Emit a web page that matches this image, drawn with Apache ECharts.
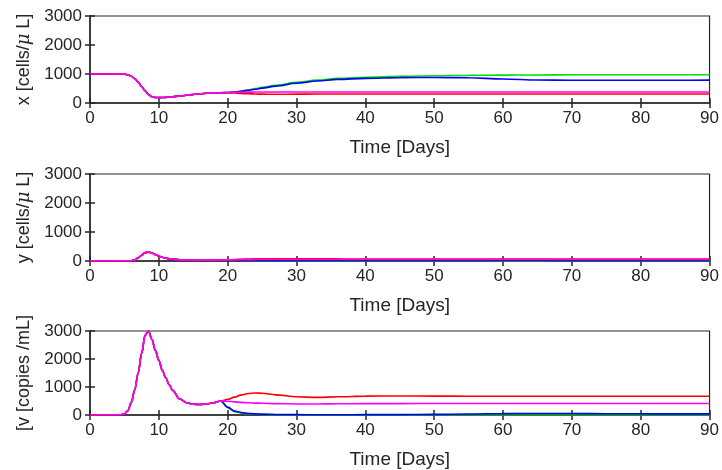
<!DOCTYPE html>
<html>
<head>
<meta charset="utf-8">
<script src="https://cdn.jsdelivr.net/npm/echarts@6/dist/echarts.min.js"></script>
<style>
  html, body { margin: 0; padding: 0; background: #fff; }
  #chart { width: 722px; height: 470px; }
</style>
</head>
<body>
<div id="chart"></div>
<script>
// time grid: shared part (all runs equal before day 19) and the part where they split
var earlyDays = [0, 2, 4, 4.5, 5, 5.5, 6, 6.5, 7, 7.5, 8, 8.5, 9, 9.5, 10, 10.5, 11, 11.5, 12, 13, 14, 15, 16, 17, 18, 19];
var lateDays = [20, 21, 22, 23, 24, 25, 27, 30, 33, 36, 40, 45, 50, 55, 60, 65, 70, 75, 80, 85, 90];

var xEarly = [1000, 1000, 1000, 1000, 995, 975, 920, 840, 720, 570, 420, 290, 215, 190, 185, 188, 195, 205, 215, 240, 265, 295, 320, 340, 350, 356];
var yEarly = [0, 0, 0, 0, 2, 4, 10, 40, 110, 200, 290, 305, 275, 225, 170, 130, 100, 80, 65, 45, 35, 30, 28, 28, 30, 32];
var vEarly = [0, 0, 0, 10, 40, 150, 450, 900, 1500, 2200, 2850, 3000, 2700, 2300, 1950, 1600, 1330, 1080, 880, 580, 440, 385, 375, 400, 440, 500];

// x [cells/uL] after day 19
var xGreen = [362, 380, 415, 455, 498, 540, 612, 712, 790, 848, 885, 918, 940, 952, 960, 968, 972, 975, 975, 975, 975];
var xBlue = [360, 375, 403, 437, 475, 513, 582, 680, 758, 815, 850, 875, 880, 870, 830, 795, 785, 785, 785, 785, 788];
var xRed = [355, 345, 330, 318, 310, 305, 302, 305, 308, 310, 310, 310, 310, 310, 310, 310, 310, 310, 310, 310, 310];
var xMagenta = [362, 368, 372, 375, 377, 378, 378, 378, 378, 378, 378, 378, 378, 378, 378, 378, 378, 378, 378, 378, 378];

// y [cells/uL] after day 19
var yGreen = [28, 22, 18, 15, 12, 10, 8, 6, 5, 4, 4, 3, 3, 3, 3, 3, 3, 3, 3, 3, 3];
var yBlue = [28, 23, 20, 17, 15, 14, 12, 11, 10, 10, 10, 11, 12, 14, 15, 15, 14, 13, 12, 12, 12];
var yRed = [40, 50, 60, 68, 72, 75, 76, 75, 74, 72, 70, 70, 70, 70, 70, 70, 70, 70, 70, 70, 70];
var yMagenta = [38, 42, 46, 48, 50, 50, 50, 50, 50, 50, 50, 50, 50, 50, 50, 50, 50, 50, 50, 50, 50];

// v [copies/mL] after day 19
var vGreen = [260, 120, 70, 45, 30, 20, 10, 5, 3, 2, 1, 1, 1, 1, 1, 1, 1, 1, 1, 1, 1];
var vBlue = [280, 140, 85, 55, 40, 30, 20, 12, 10, 10, 12, 15, 22, 35, 50, 55, 52, 47, 43, 40, 40];
var vRed = [560, 640, 720, 770, 785, 775, 720, 650, 630, 650, 675, 680, 675, 672, 670, 670, 670, 670, 670, 670, 670];
var vMagenta = [490, 470, 450, 435, 425, 420, 405, 395, 395, 400, 405, 408, 410, 410, 410, 410, 410, 410, 410, 410, 410];

var xTicks = [0, 10, 20, 30, 40, 50, 60, 70, 80, 90];
var yTicks = [0, 1000, 2000, 3000];
// {m|} marks the italic mu
var yNames = ['x [cells/{m|\u03bc} L]', 'y [cells/{m|\u03bc} L]', '[v [copies /mL]'];

var axisColor = '#262626';
var font = 'Liberation Sans, Arial, Helvetica, sans-serif';
var gridTops = [16, 174, 331];

function pairs(early, late) {
  var days = earlyDays.concat(lateDays);
  var vals = early.concat(late);
  return days.map(function (d, i) { return [d, vals[i]]; });
}

var tickStyle = { show: true, inside: true, length: 5, lineStyle: { color: axisColor, width: 1.5 } };
var grids = [], xAxes = [], yAxes = [], series = [];
gridTops.forEach(function (top) {
  grids.push({ left: 90, right: 9, top: top, height: 87, show: true, borderColor: axisColor, borderWidth: 1.2 });
});
// bottom x axes (0-2), then top tick-only axes (3-5)
gridTops.forEach(function (top, g) {
  xAxes.push({
    type: 'value', gridIndex: g, min: xTicks[0], max: xTicks[xTicks.length - 1], interval: 10,
    name: 'Time [Days]', nameLocation: 'middle', nameGap: 35,
    nameTextStyle: { fontSize: 19, color: axisColor, fontFamily: font },
    axisLine: { show: true, lineStyle: { color: axisColor, width: 1.5 } },
    axisTick: tickStyle,
    axisLabel: { fontSize: 17, color: axisColor, fontFamily: font, margin: 7, formatter: function (v) { return String(v); } },
    splitLine: { show: false }
  });
});
gridTops.forEach(function (top, g) {
  xAxes.push({
    type: 'value', gridIndex: g, position: 'top', min: 0, max: 90, interval: 10,
    axisLine: { show: false }, axisTick: tickStyle,
    axisLabel: { show: false }, splitLine: { show: false }
  });
});
gridTops.forEach(function (top, g) {
  yAxes.push({
    type: 'value', gridIndex: g, min: yTicks[0], max: yTicks[yTicks.length - 1], interval: 1000,
    name: yNames[g], nameLocation: 'middle', nameGap: 56,
    nameTextStyle: {
      fontSize: 18, color: axisColor, fontFamily: font,
      rich: { m: { fontSize: 18, fontStyle: 'italic', fontFamily: 'DejaVu Serif, serif', color: axisColor } }
    },
    axisLine: { show: true, lineStyle: { color: axisColor, width: 1.5 } },
    axisTick: tickStyle,
    axisLabel: { fontSize: 17, color: axisColor, fontFamily: font, margin: 8, formatter: function (v) { return String(v); } },
    splitLine: { show: false }
  });
});
gridTops.forEach(function (top, g) {
  yAxes.push({
    type: 'value', gridIndex: g, position: 'right', min: 0, max: 3000, interval: 1000,
    axisLine: { show: false }, axisTick: tickStyle,
    axisLabel: { show: false }, splitLine: { show: false }
  });
});

var panels = [
  { early: xEarly, runs: [xGreen, xBlue, xRed, xMagenta] },
  { early: yEarly, runs: [yGreen, yBlue, yRed, yMagenta] },
  { early: vEarly, runs: [vGreen, vBlue, vRed, vMagenta] }
];
var colors = ['#00dd00', '#0000ff', '#ff0000', '#ff00ff'];

panels.forEach(function (p, g) {
  p.runs.forEach(function (run, k) {
    series.push({
      type: 'line', xAxisIndex: g, yAxisIndex: g,
      data: pairs(p.early, run),
      showSymbol: false, smooth: 0.35, smoothMonotone: 'x',
      lineStyle: { color: colors[k], width: 1.6 },
      z: 2 + k
    });
  });
});

var chart = echarts.init(document.getElementById('chart'), null, { renderer: 'canvas' });
chart.setOption({
  animation: false,
  backgroundColor: '#fff',
  grid: grids,
  xAxis: xAxes,
  yAxis: yAxes,
  series: series
});
</script>
</body>
</html>
